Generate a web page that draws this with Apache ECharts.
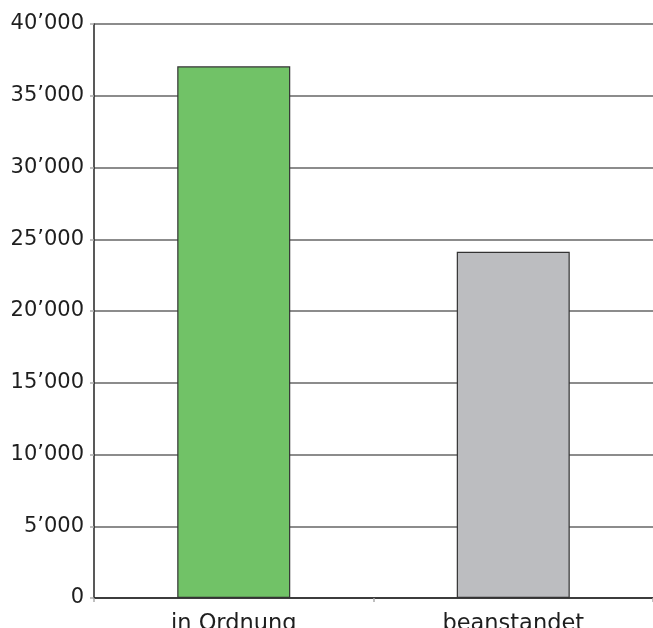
<!DOCTYPE html>
<html>
<head>
<meta charset="utf-8">
<script src="https://cdn.jsdelivr.net/npm/echarts@6/dist/echarts.min.js"></script>
<style>
html,body{margin:0;padding:0;background:#fff;}
#chart{width:653px;height:628px;}
</style>
</head>
<body>
<div id="chart"></div>
<script>
const categories = ["in Ordnung", "beanstandet"];
const values = [37050, 24130];
const barColors = ["#71c267", "#bcbdc0"];
const yTicks = [0, 5000, 10000, 15000, 20000, 25000, 30000, 35000, 40000];

function fmt(v) {
  if (v === 0) return "0";
  const s = String(v);
  return s.slice(0, s.length - 3) + "\u2019" + s.slice(s.length - 3);
}

const chart = echarts.init(document.getElementById('chart'), null, {renderer: 'canvas'});
chart.setOption({
  animation: false,
  backgroundColor: '#ffffff',
  grid: {left: 94, right: 0, top: 24, bottom: 30, containLabel: false, outerBoundsMode: 'none'},
  xAxis: {
    type: 'category',
    data: categories,
    axisLine: {show: true, lineStyle: {color: '#222', width: 1.5}},
    axisTick: {show: true, length: 4, lineStyle: {color: '#aaa', width: 1.5}},
    axisLabel: {color: '#1e1e1e', fontFamily: 'DejaVu Sans', fontSize: 22.5, margin: 15}
  },
  yAxis: {
    type: 'value',
    min: yTicks[0],
    max: yTicks[yTicks.length - 1],
    interval: yTicks[1] - yTicks[0],
    axisLine: {show: true, lineStyle: {color: '#222', width: 1.5}},
    axisTick: {show: true, length: 4, lineStyle: {color: '#aaa', width: 1.5}},
    splitLine: {show: true, lineStyle: {color: '#666', width: 1.5}},
    axisLabel: {color: '#1e1e1e', fontFamily: 'DejaVu Sans', fontSize: 21, margin: 10, formatter: fmt}
  },
  series: [{
    type: 'bar',
    barWidth: 113,
    data: values.map((v, i) => ({value: v, itemStyle: {color: barColors[i]}})),
    itemStyle: {borderColor: '#333', borderWidth: 1.2}
  }]
});
</script>
</body>
</html>
